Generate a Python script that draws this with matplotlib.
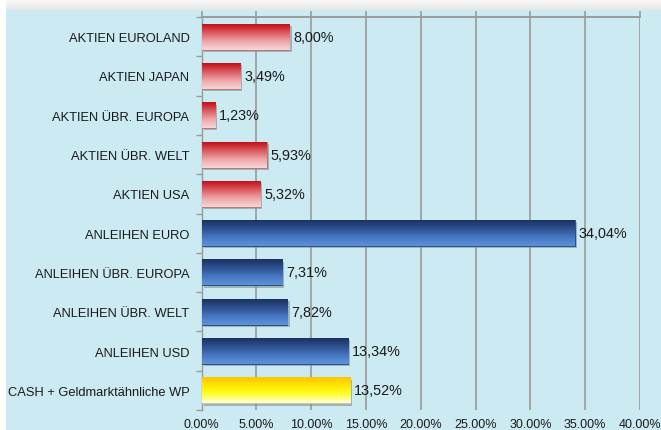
import numpy as np
import matplotlib
matplotlib.use("Agg")
import matplotlib.pyplot as plt
from matplotlib.colors import LinearSegmentedColormap
import matplotlib.patheffects as pe

plt.rcParams['font.family'] = ['Liberation Sans', 'DejaVu Sans']

categories = [
    "AKTIEN EUROLAND",
    "AKTIEN JAPAN",
    "AKTIEN ÜBR. EUROPA",
    "AKTIEN ÜBR. WELT",
    "AKTIEN USA",
    "ANLEIHEN EURO",
    "ANLEIHEN ÜBR. EUROPA",
    "ANLEIHEN ÜBR. WELT",
    "ANLEIHEN USD",
    "CASH + Geldmarktähnliche WP",
]
values = [8.00, 3.49, 1.23, 5.93, 5.32, 34.04, 7.31, 7.82, 13.34, 13.52]
groups = ["aktien"] * 5 + ["anleihen"] * 4 + ["cash"]
x_ticks = [0, 5, 10, 15, 20, 25, 30, 35, 40]

# vertical gradients, listed from the top edge of a bar to its bottom edge
gradients = {
    "aktien": ["#c2101a", "#dc5a60", "#eea6a8", "#f7d6d6"],
    "anleihen": ["#1b3260", "#2d5190", "#4677c0", "#5c93dc"],
    "cash": ["#ffc400", "#ffe800", "#ffff30", "#ffffe8"],
}
edge_colors = {"aktien": "#b86a6a", "anleihen": "#24406e", "cash": "#d8c880"}

W, H = 661, 431
fig = plt.figure(figsize=(W / 100, H / 100), dpi=100)
fig.patch.set_facecolor("white")

# light blue panel behind the chart
panel = fig.add_axes([6 / W, 0, 1 - 6 / W, 1 - 11 / H], zorder=-2)
panel.set_facecolor("#cbeaf2")
panel.set_xticks([])
panel.set_yticks([])
for s in panel.spines.values():
    s.set_visible(False)

# soft grey band above the panel
band = fig.add_axes([6 / W, 1 - 11 / H, 1 - 6 / W, 11 / H], zorder=-2)
band.imshow(np.linspace(0, 1, 32).reshape(-1, 1),
            cmap=LinearSegmentedColormap.from_list("band", ["#fbfbfb", "#e6e6e6"]),
            aspect="auto", extent=(0, 1, 0, 1))
band.axis("off")

ax = fig.add_axes([201.7 / W, 1 - 411 / H, (640 - 201.7) / W, (411 - 18) / H], zorder=1)
ax.set_facecolor("none")

y = np.arange(len(categories))
bar_h = 0.66
bars = ax.barh(y, values, height=bar_h, zorder=3)

for rect, grp, v in zip(bars, groups, values):
    cols = gradients[grp]
    cmap = LinearSegmentedColormap.from_list(grp, cols)
    rect.set_facecolor(cols[-1])
    rect.set_edgecolor(edge_colors[grp])
    rect.set_linewidth(0.6)
    rect.set_path_effects([pe.SimplePatchShadow(offset=(1.6, -1.6),
                                                shadow_rgbFace="#7f8f96", alpha=0.6),
                           pe.Normal()])
    yc = rect.get_y() + rect.get_height() / 2
    grad = np.linspace(0, 1, 64).reshape(-1, 1)
    im = ax.imshow(grad, cmap=cmap, aspect="auto", origin="upper",
                   extent=(0, v, yc + bar_h / 2, yc - bar_h / 2), zorder=4,
                   interpolation="bilinear")
    im.set_clip_path(rect)
    ax.annotate(f"{v:.2f}%".replace(".", ","), xy=(v, yc), xytext=(3.0, 0),
                textcoords="offset points", va="center", ha="left",
                fontsize=10.4, color="#1a1a1a", zorder=5)

ax.set_xlim(0, 40)
ax.set_ylim(len(categories) - 0.5, -0.5)

ax.set_xticks(x_ticks)
ax.set_xticklabels([f"{t:.2f}%" for t in x_ticks], fontsize=9, color="#1a1a1a")
ax.tick_params(axis="x", which="major", bottom=False, top=True, labelbottom=True,
               length=4, color="#9a9a9a", width=1.2, pad=2)
ax.xaxis.grid(True, color="#9a9a9a", linewidth=1.2, zorder=1)
ax.set_axisbelow(True)

ax.set_yticks(y)
ax.set_yticklabels(categories, fontsize=9.3, color="#1a1a1a")
ax.set_yticks(np.arange(len(categories) + 1) - 0.5, minor=True)
ax.tick_params(axis="y", which="major", length=0, pad=8.8)
ax.tick_params(axis="y", which="minor", length=4, color="#9a9a9a", width=1.0)

for side in ("right", "bottom"):
    ax.spines[side].set_visible(False)
ax.spines["left"].set_color("#9a9a9a")
ax.spines["left"].set_linewidth(1.0)
ax.spines["top"].set_color("#9a9a9a")
ax.spines["top"].set_linewidth(1.4)

fig.savefig("out.png", dpi=100)
